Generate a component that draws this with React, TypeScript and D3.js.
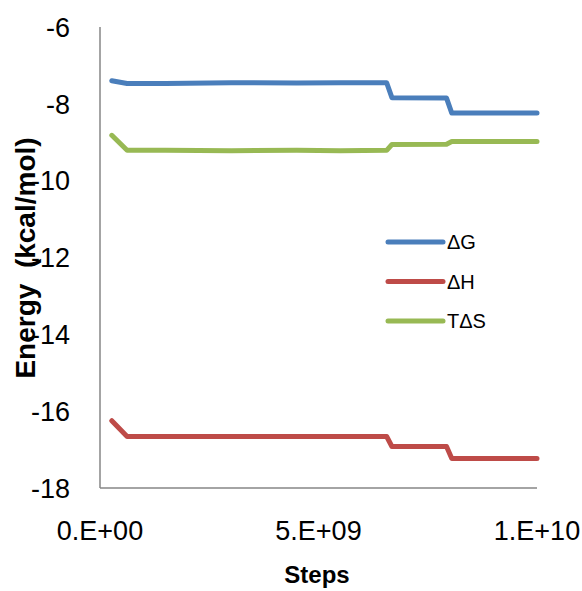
import React from "react";
import * as d3 from "d3";

const steps = [2.7e8, 6.2e8, 1.5e9, 3.0e9, 4.5e9, 5.5e9, 6.56e9, 6.68e9, 7.93e9, 8.05e9, 1.0e10];
const dG = [-7.40, -7.47, -7.47, -7.45, -7.46, -7.45, -7.45, -7.84, -7.85, -8.24, -8.24];
const dH = [-16.25, -16.66, -16.66, -16.66, -16.66, -16.66, -16.66, -16.92, -16.92, -17.23, -17.23];
const TdS = [-8.82, -9.21, -9.21, -9.22, -9.21, -9.22, -9.21, -9.06, -9.05, -8.98, -8.98];

const seriesNames = ["ΔG", "ΔH", "TΔS"];
const seriesValues = [dG, dH, TdS];
const seriesColors = ["#4a7ebb", "#be4b48", "#98b954"];

const yTicks = [-6, -8, -10, -12, -14, -16, -18];
const xTicks = [0, 5e9, 1e10];
const xTickLabels = ["0.E+00", "5.E+09", "1.E+10"];

const FONT = "'Liberation Sans', Arial, sans-serif";

export default function App() {
  const W = 582, H = 591;
  const x = d3.scaleLinear().domain([0, 1e10]).range([100, 537]);
  const y = d3.scaleLinear().domain([-18, -6]).range([488, 27]);
  const line = d3.line<[number, number]>().x(d => x(d[0])).y(d => y(d[1]));

  return (
    <svg width={W} height={H} style={{ position: "absolute", left: 0, top: 0, background: "#fff" }}>
      <rect width={W} height={H} fill="#fff" />
      {/* axes */}
      <line x1={100} x2={100} y1={y(-6)} y2={y(-18)} stroke="#868686" strokeWidth={1.5} />
      <line x1={100} x2={537} y1={y(-18)} y2={y(-18)} stroke="#868686" strokeWidth={1.5} />
      {yTicks.map(t => (
        <text key={t} x={70} y={y(t) + 9.7} textAnchor="end" fontFamily={FONT} fontSize={27} fill="#000">{t}</text>
      ))}
      {xTicks.map((t, i) => (
        <text key={t} x={x(t)} y={540} textAnchor="middle" fontFamily={FONT} fontSize={27} fill="#000">{xTickLabels[i]}</text>
      ))}
      {seriesValues.map((vals, i) => (
        <path key={i} d={line(steps.map((s, j) => [s, vals[j]] as [number, number])) || ""} fill="none"
          stroke={seriesColors[i]} strokeWidth={5} strokeLinejoin="round" strokeLinecap="round" />
      ))}
      {/* legend */}
      {seriesNames.map((n, i) => (
        <g key={n} transform={`translate(388, ${242 + i * 39.5})`}>
          <line x1={0} x2={55} y1={0} y2={0} stroke={seriesColors[i]} strokeWidth={5} strokeLinecap="round" />
          <text x={59} y={7} fontFamily={FONT} fontSize={20} fill="#000">{n}</text>
        </g>
      ))}
      <text x={317} y={583} textAnchor="middle" fontFamily={FONT} fontSize={24} fontWeight="bold" fill="#000">Steps</text>
      <text transform={`translate(35, 258) rotate(-90)`} textAnchor="middle" fontFamily={FONT} fontSize={28} fontWeight="bold" fill="#000" style={{ whiteSpace: "pre" }}>{"Energy  (kcal/mol)"}</text>
    </svg>
  );
}
